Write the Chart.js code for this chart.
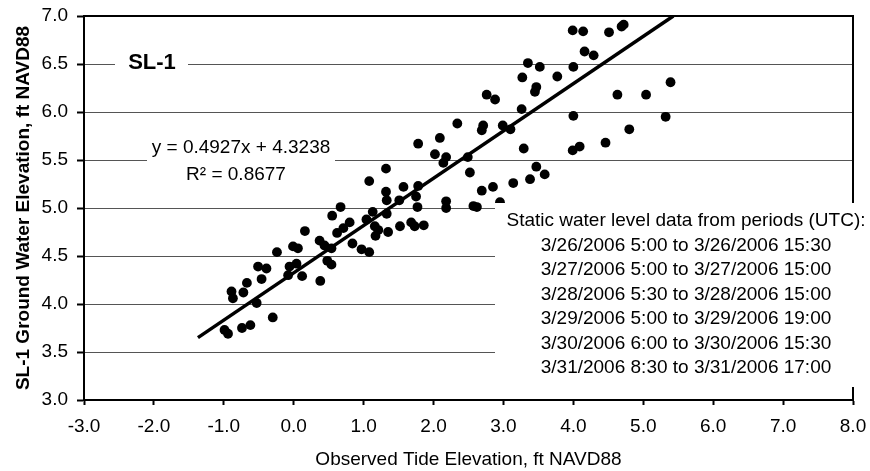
<!DOCTYPE html>
<html>
<head>
<meta charset="utf-8">
<script src="https://cdn.jsdelivr.net/npm/chart.js@4.4.1/dist/chart.umd.min.js"></script>
<style>
  html, body { margin: 0; padding: 0; background: #fff; }
  #wrap { width: 870px; height: 471px; }
</style>
</head>
<body>
<div id="wrap"><canvas id="tideChart" width="870" height="471"></canvas></div>
<script>
// Observed tide elevation (x) vs SL-1 ground water elevation (y), ft NAVD88
const tideObs = [
  -0.99, -0.94, -0.74, -0.62, -0.30, -0.53, -0.89, -0.87, -0.72, -0.67,
  -0.46, -0.51, -0.39, -0.24, -0.01, 0.06, -0.06, 0.04, -0.08, 0.12,
  0.16, 0.37, 0.44, 0.54, 0.48, 0.38, 0.54, 0.55, 0.67, 0.62,
  0.71, 0.80, 0.84, 0.97, 1.08, 1.04, 1.13, 1.08, 1.32, 1.32,
  1.33, 1.33, 1.16, 1.21, 1.17, 1.35, 1.51, 1.57, 1.78, 1.75,
  1.77, 1.52, 1.68, 1.73, 1.86, 1.78, 2.09, 2.34, 2.02, 2.18,
  2.14, 2.49, 2.52, 2.18, 2.18, 2.57, 2.62, 2.69, 2.85, 3.14,
  3.38, 3.47, 3.59, 3.29, 2.71, 2.69, 2.99, 3.10, 2.76, 2.88,
  3.26, 3.27, 3.35, 3.52, 3.47, 3.45, 3.77, 3.99, 4.14, 4.00,
  4.00, 3.99, 4.09, 4.16, 4.29, 4.51, 4.69, 4.72, 4.63, 5.04,
  5.39, 5.32, 4.80, 4.46, 2.95
];
const gwObs = [
  3.73, 3.69, 3.75, 3.78, 3.86, 4.01, 4.13, 4.06, 4.12, 4.22,
  4.26, 4.39, 4.37, 4.54, 4.60, 4.58, 4.39, 4.42, 4.30, 4.29,
  4.76, 4.66, 4.61, 4.58, 4.45, 4.24, 4.41, 4.92, 5.01, 4.74,
  4.79, 4.85, 4.63, 4.57, 4.54, 4.88, 4.96, 5.28, 5.41, 5.17,
  5.08, 4.94, 4.81, 4.77, 4.71, 4.75, 5.08, 5.22, 5.23, 5.12,
  5.01, 4.81, 4.85, 4.81, 4.82, 5.67, 5.73, 5.88, 5.56, 5.53,
  5.47, 5.53, 5.37, 5.07, 5.00, 5.02, 5.01, 5.18, 5.22, 5.26,
  5.30, 5.43, 5.35, 5.62, 5.86, 5.81, 5.86, 5.82, 6.18, 6.13,
  6.03, 6.36, 6.51, 6.47, 6.26, 6.21, 6.37, 6.85, 6.84, 6.47,
  5.96, 5.60, 5.64, 6.63, 6.59, 6.83, 6.89, 6.91, 6.18, 6.18,
  6.31, 5.95, 5.82, 5.68, 5.06
];

// linear trendline ends as drawn
const trendX = [-1.37, 5.43];
const trendY = [3.65, 7.0];

const wellName = 'SL-1';
const eqText = 'y = 0.4927x + 4.3238';
const r2Text = 'R\u00B2 = 0.8677';
const periodHeader = 'Static water level data from periods (UTC):';
const periods = [
  '3/26/2006 5:00 to 3/26/2006 15:30',
  '3/27/2006 5:00 to 3/27/2006 15:00',
  '3/28/2006 5:30 to 3/28/2006 15:00',
  '3/29/2006 5:00 to 3/29/2006 19:00',
  '3/30/2006 6:00 to 3/30/2006 15:30',
  '3/31/2006 8:30 to 3/31/2006 17:00'
];

const FONT = '"Liberation Sans", Arial, Helvetica, sans-serif';

// frame on top/right, white label boxes over the grid
const overlay = {
  id: 'overlay',
  beforeDatasetsDraw(chart) {
    const { ctx, chartArea: a } = chart;
    ctx.save();
    ctx.strokeStyle = '#000';
    ctx.lineWidth = 2;
    ctx.beginPath();
    ctx.moveTo(a.left, a.top);
    ctx.lineTo(a.right, a.top);
    ctx.lineTo(a.right, a.bottom);
    ctx.stroke();
    ctx.restore();
  },
  afterDatasetsDraw(chart) {
    const ctx = chart.ctx;
    ctx.save();
    ctx.fillStyle = '#fff';
    ctx.fillRect(115, 50, 73, 28);
    ctx.fillRect(147, 134, 188, 56);
    ctx.fillRect(495, 203, 375, 184);
    ctx.fillStyle = '#000';
    ctx.textAlign = 'center';
    ctx.textBaseline = 'middle';
    ctx.font = 'bold 22px ' + FONT;
    ctx.fillText(wellName, 152, 63);
    ctx.font = '19px ' + FONT;
    ctx.fillText(eqText, 241, 148);
    ctx.fillText(r2Text, 236, 175);
    ctx.fillText(periodHeader, 686, 221);
    periods.forEach((p, i) => ctx.fillText(p, 686, 245.5 + i * 24.5));
    ctx.restore();
  }
};

new Chart(document.getElementById('tideChart'), {
  type: 'scatter',
  data: {
    datasets: [
      {
        data: tideObs.map((x, i) => ({ x: x, y: gwObs[i] })),
        pointRadius: 4.9,
        pointBackgroundColor: '#000',
        pointBorderWidth: 0
      },
      {
        data: trendX.map((x, i) => ({ x: x, y: trendY[i] })),
        showLine: true,
        borderColor: '#000',
        borderWidth: 3.5,
        pointRadius: 0
      }
    ]
  },
  options: {
    responsive: false,
    animation: false,
    devicePixelRatio: 1,
    layout: { padding: { top: 16, right: 17, left: 0, bottom: 0 } },
    plugins: { legend: { display: false }, tooltip: { enabled: false } },
    scales: {
      x: {
        type: 'linear',
        min: -3,
        max: 8,
        ticks: {
          stepSize: 1,
          padding: 10,
          color: '#000',
          font: { family: FONT, size: 19 },
          callback: v => v.toFixed(1)
        },
        grid: { drawOnChartArea: false, tickLength: 5, tickColor: '#000', tickWidth: 2 },
        border: { color: '#000', width: 2 },
        title: {
          display: true,
          text: 'Observed Tide Elevation, ft NAVD88',
          color: '#000',
          font: { family: FONT, size: 19 },
          padding: { top: 0, bottom: 0 }
        },
        afterFit: s => { s.height = 71; s.paddingLeft = 0; s.paddingRight = 0; }
      },
      y: {
        min: 3,
        max: 7,
        ticks: {
          stepSize: 0.5,
          padding: 9,
          color: '#000',
          font: { family: FONT, size: 19 },
          callback: v => v.toFixed(1)
        },
        grid: { color: '#555', lineWidth: 1, tickLength: 7, tickColor: '#000', tickWidth: 2 },
        border: { color: '#000', width: 2 },
        title: {
          display: true,
          text: 'SL-1 Ground Water Elevation, ft NAVD88',
          color: '#000',
          font: { family: FONT, size: 19, weight: 'bold' },
          padding: { top: 12, bottom: 0 }
        },
        afterFit: s => { s.width = 84; s.paddingTop = 0; s.paddingBottom = 0; }
      }
    }
  },
  plugins: [overlay]
});
</script>
</body>
</html>
